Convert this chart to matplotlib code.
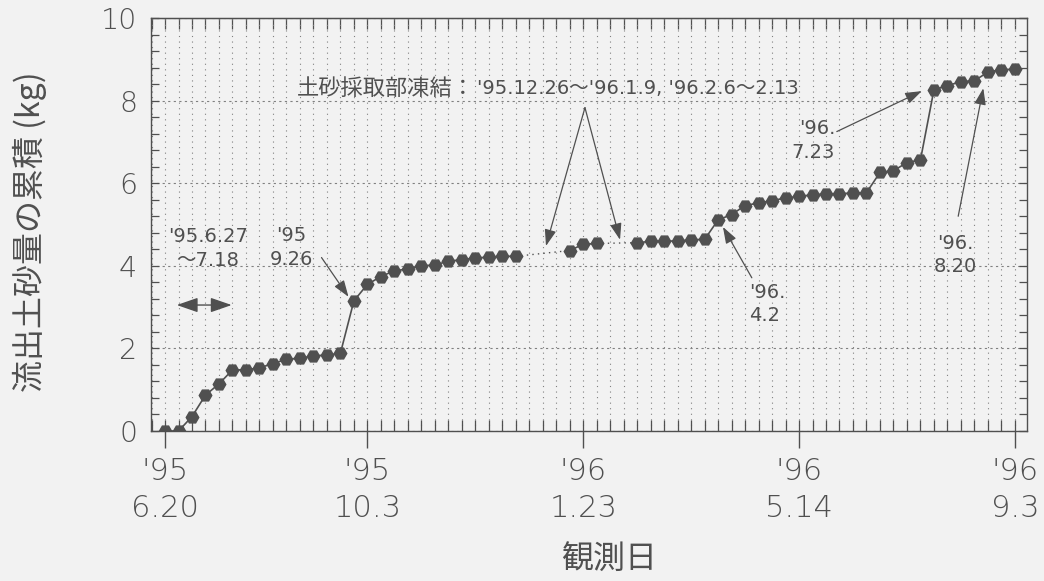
import matplotlib
matplotlib.use("Agg")
import numpy as np
import matplotlib.pyplot as plt
from matplotlib.ticker import MultipleLocator, FixedLocator, NullFormatter

# Weekly observations; week 0 = 1995-06-20, one step = 7 days
weeks = list(range(64))
cum_kg = [0.00, 0.00, 0.35, 0.87, 1.14, 1.48, 1.48, 1.53, 1.63, 1.74, 1.76, 1.82, 1.84, 1.88,
          3.15, 3.55, 3.74, 3.88, 3.92, 4.00, 4.02, 4.11, 4.15, 4.19, 4.21, 4.23, 4.23,
          None, None, None,
          4.37, 4.52, 4.54,
          None, None,
          4.56, 4.59, 4.60, 4.60, 4.63, 4.64, 5.11, 5.24, 5.46, 5.52, 5.58, 5.64, 5.68,
          5.72, 5.74, 5.75, 5.76, 5.77, 6.26, 6.30, 6.50, 6.56, 8.26, 8.36, 8.46, 8.48,
          8.69, 8.75, 8.76]

# Sampler frozen: weeks without a measurement are bridged by a dotted line
gap_bridges = [(26, 30), (32, 35)]

tick_weeks = [0, 15, 31, 47, 63]
tick_labels = ["'95\n6.20", "'95\n10.3", "'96\n1.23", "'96\n5.14", "'96\n9.3"]

INK = "#505050"
BG = "#f2f2f2"
plt.rcParams['font.family'] = ['DejaVu Sans', 'Noto Sans CJK JP']
plt.rcParams['text.color'] = INK
plt.rcParams['axes.edgecolor'] = INK
plt.rcParams['xtick.color'] = INK
plt.rcParams['ytick.color'] = INK

fig = plt.figure(figsize=(10.44, 5.81), dpi=100, facecolor=BG)
ax = fig.add_axes([151 / 1044, 1 - 431 / 581, 876 / 1044, 413 / 581], facecolor=BG)

vals = np.array([np.nan if v is None else v for v in cum_kg], dtype=float)
x = np.array(weeks, dtype=float)

for a, b in gap_bridges:
    ax.plot([x[a], x[b]], [vals[a], vals[b]], color=INK, lw=1.0,
            ls=(0, (1, 3)), zorder=3)
ax.plot(x, vals, color=INK, lw=1.2, marker='H', ms=9, mec=INK, mfc=INK, zorder=4)

ax.set_xlim(-1.04, 63.9)
ax.set_ylim(0, 10)

# x axis: labelled dates outward, weekly ticks inward
ax.xaxis.set_major_locator(FixedLocator(tick_weeks))
ax.set_xticklabels(tick_labels, fontweight='light', linespacing=1.35)
ax.xaxis.set_minor_locator(MultipleLocator(1))
ax.xaxis.remove_overlapping_locs = False
ax.tick_params(axis='x', which='major', direction='out', length=12, width=1.0,
               labelsize=22, pad=7)
ax.tick_params(axis='x', which='minor', direction='in', length=8, width=0.9)

ax.yaxis.set_major_locator(MultipleLocator(2))
ax.yaxis.set_minor_locator(MultipleLocator(0.4))
ax.tick_params(axis='y', which='both', direction='in', length=6, width=0.9,
               right=True, labelsize=20.5, pad=10)
for lab in ax.get_yticklabels():
    lab.set_fontweight('light')

top = ax.secondary_xaxis('top')
top.xaxis.set_major_locator(MultipleLocator(1))
top.xaxis.set_major_formatter(NullFormatter())
top.tick_params(direction='in', length=8, width=0.9)

for s in ax.spines.values():
    s.set_linewidth(1.0)

ax.grid(which='minor', axis='x', color='#808080', lw=0.8, ls=(0, (1, 4)))
ax.grid(which='major', axis='y', color='#808080', lw=0.8, ls=(0, (2, 3)))
ax.set_axisbelow(True)

fig.text(30 / 1044, 1 - 232 / 581, "流出土砂量の累積 (kg)", rotation=90,
         ha='center', va='center', fontsize=23, family='Noto Sans CJK JP')
fig.text(609 / 1044, 1 - 560 / 581, "観測日", ha='center', va='center',
         fontsize=23, family='Noto Sans CJK JP')

arrow = dict(arrowstyle="-|>,head_length=1.0,head_width=0.35", color=INK,
             lw=0.9, shrinkA=0, shrinkB=0, mutation_scale=10)
ann_fs = 14

# '95.6.27 - 7.18 period
ax.annotate("", xy=(0.87, 3.05), xytext=(4.94, 3.05),
            arrowprops=dict(arrowstyle="<|-|>,head_length=1.3,head_width=0.45",
                            color=INK, lw=1.0, shrinkA=0, shrinkB=0, mutation_scale=10))
ax.text(3.19, 4.42, "'95.6.27\n〜7.18", ha='center', va='center', fontsize=ann_fs,
        linespacing=1.3)

# '95.9.26
ax.text(9.34, 4.44, "'95\n9.26", ha='center', va='center', fontsize=ann_fs,
        linespacing=1.3)
ax.annotate("", xy=(13.6, 3.25), xytext=(11.6, 4.2), arrowprops=arrow)

# freezing periods of the sampler
ax.text(9.79, 8.3, "土砂採取部凍結：", ha='left', va='center', fontsize=16)
ax.text(23.1, 8.3, "'95.12.26〜'96.1.9, '96.2.6〜2.13", ha='left', va='center',
        fontsize=ann_fs)
apex = (31.13, 7.83)
ax.annotate("", xy=(28.24, 4.48), xytext=apex, arrowprops=arrow)
ax.annotate("", xy=(33.73, 4.63), xytext=apex, arrowprops=arrow)

# '96.4.2
ax.text(43.3, 3.08, "'96.\n4.2", ha='left', va='center', fontsize=ann_fs,
        linespacing=1.3)
ax.annotate("", xy=(41.36, 4.94), xytext=(43.5, 3.71), arrowprops=arrow)

# '96.7.23
ax.text(49.67, 7.03, "'96.\n7.23", ha='right', va='center', fontsize=ann_fs,
        linespacing=1.3)
ax.annotate("", xy=(56.1, 8.23), xytext=(49.8, 7.25), arrowprops=arrow)

# '96.8.20
ax.text(58.6, 4.26, "'96.\n8.20", ha='center', va='center', fontsize=ann_fs,
        linespacing=1.3)
ax.annotate("", xy=(60.66, 8.3), xytext=(58.8, 5.2), arrowprops=arrow)

fig.savefig("out.png", dpi=100, facecolor=BG)
